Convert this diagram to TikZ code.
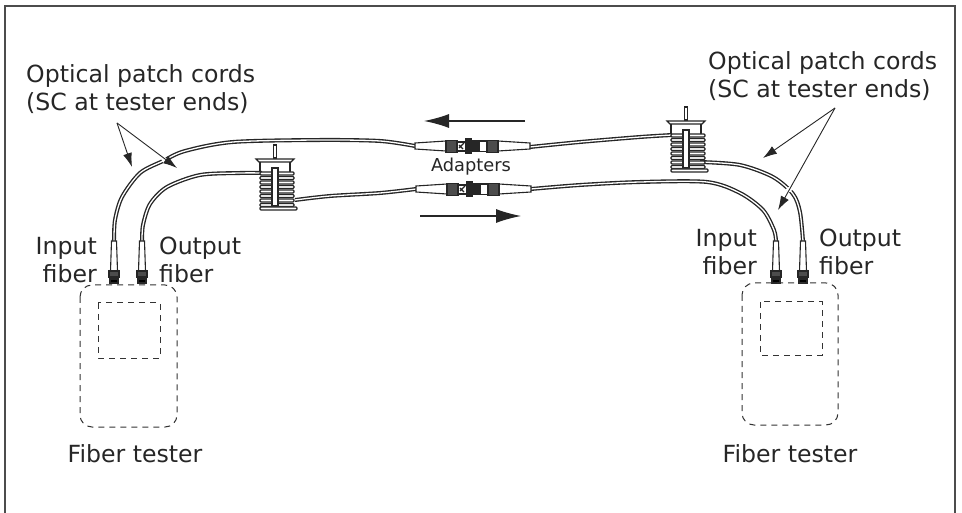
\documentclass[tikz,border=0pt]{standalone}
\usepackage{fontspec}
\setmainfont{DejaVu Sans}
\usetikzlibrary{arrows.meta}
\tikzset{
	fibercord/.style={line width=1.35pt, draw=black!85, double=white, double distance=1.3pt},
	testerbox/.style={draw=black!80, line width=1pt, dash pattern=on 6pt off 5pt},
	pointer/.style={draw=black!85, line width=0.9pt, -{Latex[length=14pt,width=9pt]}},
	flowarrow/.style={draw=black!85, line width=1.2pt, -{Latex[length=25pt,width=14pt]}},
	label/.style={text=black!85, font=\fontsize{23.6}{27.5}\selectfont, inner sep=0pt, align=left},
}
% spool, at the top of its stem
\def\spoolcoil(#1,#2){
	\begin{scope}[shift={(#1,#2)}, draw=black!85, line width=1.1pt]
		\draw[fill=white] (-1.2,0) -- (1.2,0) -- (1.2,13) -- (-1.2,13) -- cycle;
		\draw[fill=white] (-19,14) -- (19,14) -- (16,17) -- (-16,17) -- cycle;
		\draw (-15,17) -- (-15,27) (15,17) -- (15,27);
		\foreach \ringy in {27,31.5,...,59}
			\draw[fill=white, line width=1.4pt, rounded corners=1pt] (-15,\ringy) rectangle (19,\ringy+3);
		\draw[fill=white] (-3,23) rectangle (3,61);
		\draw[fill=white, rounded corners=1pt] (-15,62) rectangle (22,65);
	\end{scope}
}
% adapter with its two sleeves, at the left end of the sleeve
\def\adapter(#1,#2){
	\begin{scope}[shift={(#1,#2)}, draw=black!85, line width=1.1pt]
		\draw[fill=white] (0,-3) -- (31,-5) -- (31,5) -- (0,3) -- cycle;
		\draw[fill=white] (83,-5) -- (115,-3) -- (115,3) -- (83,5) -- cycle;
		\draw[fill=black!70] (31,-5.5) rectangle (42,6.5);
		\draw[fill=white] (42,-4) rectangle (51,5);
		\draw (44,2) -- (49,-3) (44,-1) -- (48,3);
		\draw[fill=black!85] (51,-7) rectangle (56,7);
		\draw[fill=black!85] (56,-5) rectangle (64,5.5);
		\draw[fill=white] (64,-5) rectangle (72,5.5);
		\draw[fill=black!70] (72,-5.5) rectangle (83,6.5);
	\end{scope}
}
% plug at the tester, centred on the fiber
\def\testerplug(#1,#2){
	\begin{scope}[shift={(#1,#2)}, draw=black!85, line width=1.1pt]
		\draw[fill=white] (-2.5,0) -- (2.5,0) -- (3.5,30) -- (-3.5,30) -- cycle;
		\draw[fill=black!70] (-5,30) rectangle (5,36);
		\draw[fill=white] (-4,36) rectangle (4,38);
		\draw[fill=black] (-4,38) rectangle (4,42);
	\end{scope}
}
\begin{document}
\begin{tikzpicture}[x=1pt, y=-1pt]
	\useasboundingbox (0,0) rectangle (962,513);
	
	\draw[black!70, line width=1.4pt] (5,513) -- (5,6) -- (955,6) -- (955,513);
	
	%%%%% top cord %%%%%
	\draw[fibercord] plot[smooth] coordinates {(114,241) (115,220) (122,197) (140,173) (163,161) (185,151) (233,142) (320,140) (380,141) (415,146)};
	\draw[fibercord] plot[smooth] coordinates {(530,147) (580,142) (640,137) (672,135)};
	\draw[fibercord] plot[smooth] coordinates {(700,162) (740,165) (773,177) (793,194) (800,212) (803,241)};
	
	%%%%% lower cord %%%%%
	\draw[fibercord] plot[smooth] coordinates {(142,241) (143,225) (150,204) (167,187) (200,175) (240,173) (262,173)};
	\draw[fibercord] plot[smooth] coordinates {(295,200) (330,196) (380,193) (416,189)};
	\draw[fibercord] plot[smooth] coordinates {(531,189) (580,185) (640,182) (707,182) (740,193) (763,210) (774,230) (776,241)};
	
	\spoolcoil(275,145)
	\spoolcoil(686,107)
	\adapter(415,146)
	\adapter(416,189)
	
	\testerplug(114,241)
	\testerplug(142,241)
	\testerplug(776,241)
	\testerplug(803,241)
	
	%%%%% testers %%%%%
	\draw[testerbox, rounded corners=12pt] (80,285) rectangle (177,427);
	\draw[testerbox] (98,303) rectangle (160,358);
	\draw[testerbox, rounded corners=12pt] (742,283) rectangle (838,425);
	\draw[testerbox] (760,302) rectangle (822,355);
	
	%%%%% gaps at the crossings %%%%%
	\draw[white, line width=4.5pt] (162,156) -- (167,165);
	\draw[white, line width=4.5pt] (787,191) -- (794,186);
	
	\coordinate (leftapex) at (117,123);
	\coordinate (leftupper) at (132,167);
	\coordinate (leftlower) at (177,168);
	\coordinate (rightapex) at (835,108);
	\coordinate (rightupper) at (763,158);
	\coordinate (rightlower) at (778,210);
	\draw[pointer] (leftapex) -- (leftupper);
	\draw[pointer] (leftapex) -- (leftlower);
	\draw[pointer] (rightapex) -- (rightupper);
	\draw[pointer] (rightapex) -- (rightlower);
	
	\coordinate (backstart) at (525,121);
	\coordinate (backend) at (424,121);
	\coordinate (forthstart) at (420,216);
	\coordinate (forthend) at (521,216);
	\draw[flowarrow] (backstart) -- (backend);
	\draw[flowarrow] (forthstart) -- (forthend);
	
	%%%%% labels %%%%%
	\node[label, anchor=west] (leftcords) at (26,89) {Optical patch cords\\(SC at tester ends)};
	\node[label, anchor=west] (rightcords) at (708,76) {Optical patch cords\\(SC at tester ends)};
	\node[label, anchor=east, align=right] (leftinput) at (97,260) {Input\\fiber};
	\node[label, anchor=west] (leftoutput) at (159,260) {Output\\fiber};
	\node[label, anchor=east, align=right] (rightinput) at (757,252) {Input\\fiber};
	\node[label, anchor=west] (rightoutput) at (819,252) {Output\\fiber};
	\node[label] (lefttester) at (135,454) {Fiber tester};
	\node[label] (righttester) at (790,454) {Fiber tester};
	\node[label, font=\fontsize{17.8}{20}\selectfont] (adapters) at (471,167) {Adapters};
\end{tikzpicture}
\end{document}
